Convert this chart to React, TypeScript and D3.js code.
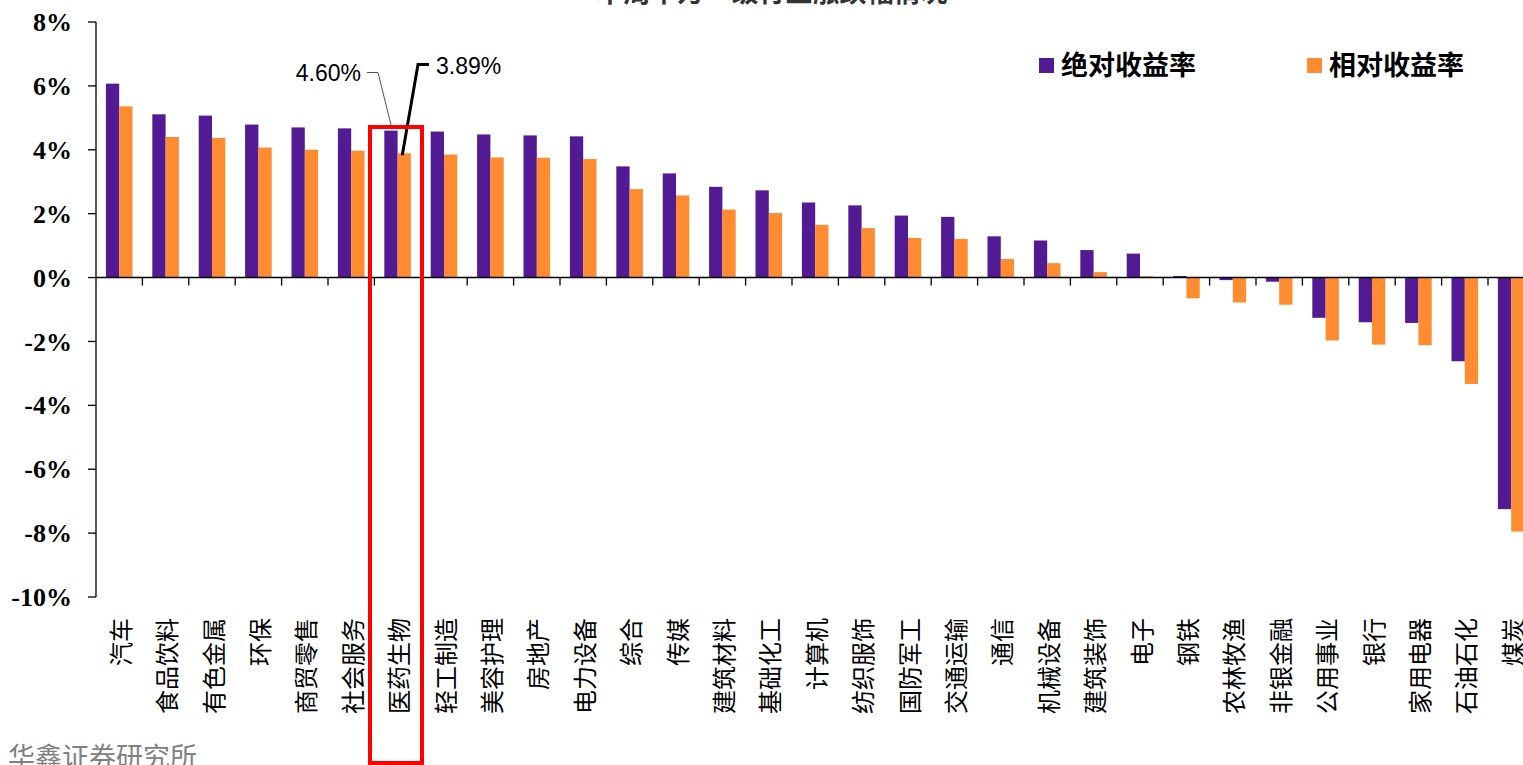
import React from "react";
import * as d3 from "d3";

const categories = ["汽车","食品饮料","有色金属","环保","商贸零售","社会服务","医药生物","轻工制造","美容护理","房地产","电力设备","综合","传媒","建筑材料","基础化工","计算机","纺织服饰","国防军工","交通运输","通信","机械设备","建筑装饰","电子","钢铁","农林牧渔","非银金融","公用事业","银行","家用电器","石油石化","煤炭"];
const absoluteReturn = [6.07,5.11,5.07,4.79,4.70,4.67,4.60,4.57,4.48,4.45,4.42,3.48,3.26,2.84,2.73,2.35,2.26,1.94,1.90,1.29,1.16,0.86,0.75,0.05,-0.08,-0.13,-1.26,-1.40,-1.42,-2.62,-7.25];
const relativeReturn = [5.36,4.40,4.37,4.07,4.00,3.97,3.89,3.85,3.76,3.75,3.71,2.77,2.57,2.13,2.02,1.65,1.55,1.24,1.21,0.58,0.45,0.17,0.04,-0.65,-0.78,-0.85,-1.97,-2.10,-2.12,-3.33,-7.95];
const yTicks = [-10,-8,-6,-4,-2,0,2,4,6,8];
const seriesNames = ["绝对收益率","相对收益率"];
const colors = ["#531b93","#ff8c30"];

export default function App() {
  const W = 1523, H = 765;
  const x0 = 96, band = 46.4;
  const x = d3.scaleBand<string>().domain(categories).range([x0, x0 + band * categories.length]).padding(0);
  const y = d3.scaleLinear().domain([-10, 8]).range([597, 22]);
  const barW = 13.3;
  const offset = (x.bandwidth() - 2 * barW) / 2;
  const zeroY = y(0);
  const hl = categories.indexOf("医药生物");
  const hx = x(categories[hl])!;
  const tickFmt = (v: number) => `${v}%`;

  return (
    <svg width={W} height={H} style={{ position: "absolute", left: 0, top: 0, display: "block", background: "#fff" }}>
      {/* cut title */}
      <text x={772} y={2} textAnchor="middle" fontFamily="'Noto Sans CJK SC'" fontSize={27} fontWeight={700} fill="#333">本周申万一级行业涨跌幅情况</text>

      {/* bars */}
      {categories.map((c, i) => {
        const bx = x(c)! + offset;
        const a = absoluteReturn[i], r = relativeReturn[i];
        return (
          <g key={c}>
            <rect x={bx} y={Math.min(y(a), zeroY)} width={barW} height={Math.abs(y(a) - zeroY)} fill={colors[0]} />
            <rect x={bx + barW} y={Math.min(y(r), zeroY)} width={barW} height={Math.abs(y(r) - zeroY)} fill={colors[1]} />
          </g>
        );
      })}

      {/* y axis */}
      <line x1={x0} x2={x0} y1={y(8)} y2={y(-10)} stroke="#000" strokeWidth={1.3} />
      {yTicks.map(t => (
        <g key={t}>
          <line x1={x0 - 8} x2={x0} y1={y(t)} y2={y(t)} stroke="#000" strokeWidth={1.3} />
          <text x={72} y={y(t)} dy="0.35em" textAnchor="end" fontFamily="'Liberation Serif', 'Times New Roman', serif" fontWeight={700} fontSize={26} fill="#000">{tickFmt(t)}</text>
        </g>
      ))}

      {/* x axis */}
      <line x1={x0} x2={W} y1={zeroY} y2={zeroY} stroke="#000" strokeWidth={1.5} />
      {categories.map(c => (
        <line key={"t" + c} x1={x(c)! + band} x2={x(c)! + band} y1={zeroY} y2={zeroY + 8} stroke="#000" strokeWidth={1.3} />
      ))}
      {categories.map(c => {
        const cx = x(c)! + band / 2;
        return (
          <text key={"l" + c} transform={`translate(${cx},618) rotate(-90)`} textAnchor="end" dominantBaseline="central" fontFamily="'Noto Sans CJK SC'" fontSize={24} fill="#000">{c}</text>
        );
      })}

      {/* legend */}
      <rect x={1039} y={58} width={15} height={15} fill={colors[0]} />
      <text x={1061} y={65} dy="0.36em" fontFamily="'Noto Sans CJK SC'" fontWeight={700} fontSize={27} fill="#000">{seriesNames[0]}</text>
      <rect x={1307} y={58} width={15} height={15} fill={colors[1]} />
      <text x={1329} y={65} dy="0.36em" fontFamily="'Noto Sans CJK SC'" fontWeight={700} fontSize={27} fill="#000">{seriesNames[1]}</text>

      {/* annotations */}
      <polyline points={`367,72.5 378,72.5 ${hx + offset + barW / 2 + 1},${y(absoluteReturn[hl]) - 2}`} fill="none" stroke="#555" strokeWidth={1} />
      <text x={361} y={81} textAnchor="end" fontFamily="'Liberation Sans', Arial, sans-serif" fontSize={23} fill="#000">{absoluteReturn[hl].toFixed(2)}%</text>
      <polyline points={`429,64.5 418,64.5 ${hx + offset + barW * 1.5 - 2},${y(relativeReturn[hl]) + 2}`} fill="none" stroke="#000" strokeWidth={3} />
      <text x={436} y={74} fontFamily="'Liberation Sans', Arial, sans-serif" fontSize={23} fill="#000">{relativeReturn[hl].toFixed(2)}%</text>

      {/* highlight box */}
      <rect x={370} y={127} width={52} height={636} fill="none" stroke="#ff0000" strokeWidth={4} />

      {/* source */}
      <text x={8} y={767} fontFamily="'Noto Sans CJK SC'" fontSize={27} fill="#808080">华鑫证券研究所</text>
    </svg>
  );
}
